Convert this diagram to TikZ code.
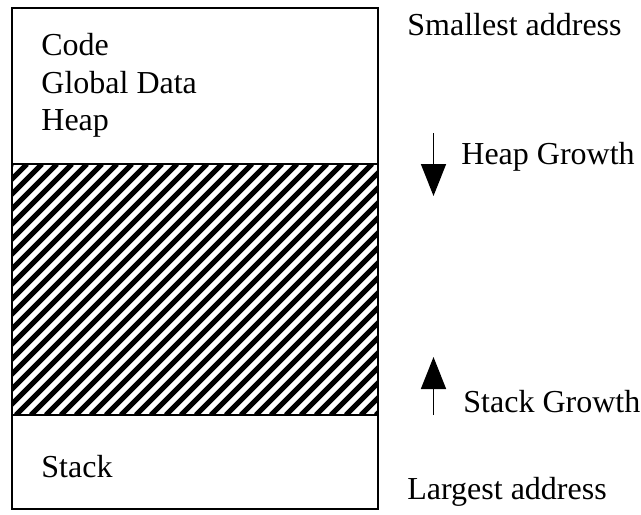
\documentclass[tikz,border=0pt]{standalone}
\usepackage{fontspec}
\setmainfont{Liberation Serif}
\usetikzlibrary{arrows.meta}
\begin{document}
\begin{tikzpicture}[x=0.5pt,y=-0.5pt,
  lbl/.style={anchor=base west,inner sep=0pt,font=\fontsize{16}{19}\selectfont},
  boxline/.style={line width=1.1pt},
  growarrow/.style={line width=0.8pt,-{Triangle[length=16pt,width=12.5pt]}},
  hatchline/.style={line width=2.6pt}]
\useasboundingbox (0,0) rectangle (641,514);
% hatched region
\begin{scope}
\clip (12,164) rectangle (378,415);
\foreach \i in {0,...,42}{
  \draw[hatchline] ({12-251+\i*15},415) -- ++(251,-251);
}
\end{scope}
% box
\draw[boxline] (12,8) rectangle (378,509);
\draw[boxline] (12,164) -- (378,164);
\draw[boxline] (12,415) -- (378,415);
% texts in box
\node[lbl] (code) at (41,55) {Code};
\node[lbl] (global) at (41,93) {Global Data};
\node[lbl] (heap) at (41,130) {Heap};
\node[lbl] (stack) at (41,477) {Stack};
% side texts
\node[lbl] (small) at (407,35) {Smallest address};
\node[lbl] (heapg) at (461,164) {Heap Growth};
\node[lbl] (stackg) at (463,412) {Stack Growth};
\node[lbl] (large) at (407,499) {Largest address};
% arrows
\coordinate (ha) at (433.5,133);
\coordinate (hb) at (433.5,196);
\coordinate (sa) at (433.5,415);
\coordinate (sb) at (433.5,357);
\draw[growarrow] (ha) -- (hb);
\draw[growarrow] (sa) -- (sb);
\end{tikzpicture}
\end{document}
